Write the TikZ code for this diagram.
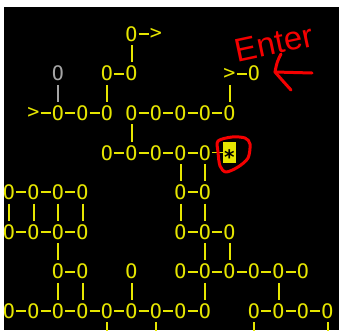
\documentclass[tikz,border=0pt]{standalone}
\usepackage{fontspec}
\newfontfamily\termfont{DejaVu Sans Mono}
\newfontfamily\handfont{Liberation Sans}
\definecolor{termyellow}{RGB}{230,230,0}
\definecolor{termgrey}{RGB}{165,165,165}
\definecolor{inkred}{RGB}{245,0,0}
\begin{document}
\begin{tikzpicture}[x=1pt,y=-1pt,
  cell/.style={inner sep=0pt, minimum width=14pt, minimum height=22pt, text=termyellow,
    font=\termfont\fontsize{20}{21}\selectfont},
  greycell/.style={cell, text=termgrey},
  starbox/.style={cell, fill=termyellow, text=black, minimum width=13pt, minimum height=21pt},
  link/.style={draw=termyellow, line width=2pt},
  thinlink/.style={draw=termyellow, line width=1.2pt},
  greylink/.style={draw=termgrey, line width=2pt},
  ink/.style={draw=inkred, line width=3pt, line cap=round, line join=round}
]
\useasboundingbox (0,0) rectangle (339,330);
\clip (0,0) rectangle (339,330);
\fill[white] (0,0) rectangle (339,330);
\fill[black] (4,7) rectangle (339,330);

% yellow O nodes
\foreach \r/\c in {0/10, 2/8, 2/10, 2/20,
  4/4, 4/6, 4/8, 4/10, 4/12, 4/14, 4/16, 4/18,
  6/8, 6/10, 6/12, 6/14, 6/16,
  8/0, 8/2, 8/4, 8/6, 8/14, 8/16,
  10/0, 10/2, 10/4, 10/6, 10/14, 10/16, 10/18,
  12/4, 12/6, 12/10, 12/14, 12/16, 12/18, 12/20, 12/22, 12/24,
  14/0, 14/2, 14/4, 14/6, 14/8, 14/10, 14/12, 14/14, 14/16,
  14/20, 14/22, 14/24, 14/26}
  \node[cell] (o-\r-\c) at ({9+12.25*\c},{34+19.8*\r}) {O};
% grey O
\node[greycell] (o-2-4) at ({9+12.25*4},{34+19.8*2}) {O};
% arrow heads
\foreach \r/\c in {0/12, 2/18, 4/2}
  \node[cell] (o-\r-\c) at ({9+12.25*\c},{34+19.8*\r}) {>};
% highlighted star
\node[starbox] (o-6-18) at ({9+12.25*18},{34+19.8*6}) {\smash{\raisebox{-0.56em}{\bfseries *}}};

% horizontal links
\foreach \r/\a/\b in {0/10/12, 2/8/10, 2/18/20,
  4/2/4, 4/4/6, 4/6/8, 4/10/12, 4/12/14, 4/14/16, 4/16/18,
  6/8/10, 6/10/12, 6/12/14, 6/14/16,
  8/0/2, 8/2/4, 8/4/6, 8/14/16,
  10/0/2, 10/2/4, 10/4/6, 10/14/16, 10/16/18,
  12/4/6, 12/14/16, 12/16/18, 12/18/20, 12/20/22, 12/22/24,
  14/0/2, 14/2/4, 14/4/6, 14/6/8, 14/8/10, 14/10/12, 14/12/14, 14/14/16,
  14/20/22, 14/22/24, 14/24/26}
  \draw[link] (o-\r-\a) -- (o-\r-\b);
\draw[thinlink] (o-6-16) -- (o-6-18);

% vertical links
\foreach \c/\a/\b in {10/0/2, 8/2/4, 18/2/4, 10/4/6, 14/6/8, 16/6/8,
  0/8/10, 2/8/10, 4/8/10, 6/8/10, 14/8/10, 16/8/10,
  4/10/12, 16/10/12, 18/10/12,
  4/12/14, 6/12/14, 10/12/14, 16/12/14, 22/12/14}
  \draw[link] (o-\a-\c) -- (o-\b-\c);
\draw[greylink] (o-2-4) -- (o-4-4);

% links running off the bottom edge
\foreach \c in {8, 12, 20, 26} {
  \coordinate (down-\c) at ({9+12.25*\c},345);
  \draw[link] (o-14-\c) -- (down-\c);
}

% red annotations
\node[text=inkred, font=\handfont\fontsize{33}{35}\selectfont, rotate=12, inner sep=0pt]
  (enter) at (274,43) {Enter};
\coordinate (arrtail) at (312,73);
\coordinate (arrtip) at (275,72);
\coordinate (barbup) at (281,54);
\coordinate (barbdown) at (291,90);
\draw[ink] (arrtail) -- (arrtip);
\draw[ink] (barbup) .. controls (277,62) .. (arrtip) .. controls (282,80) .. (barbdown);
\draw[ink] plot[smooth cycle] coordinates {(218,141) (232,137) (245,138) (250,144)
  (248,158) (238,167) (226,172) (220,166) (218,152)};
\end{tikzpicture}
\end{document}
